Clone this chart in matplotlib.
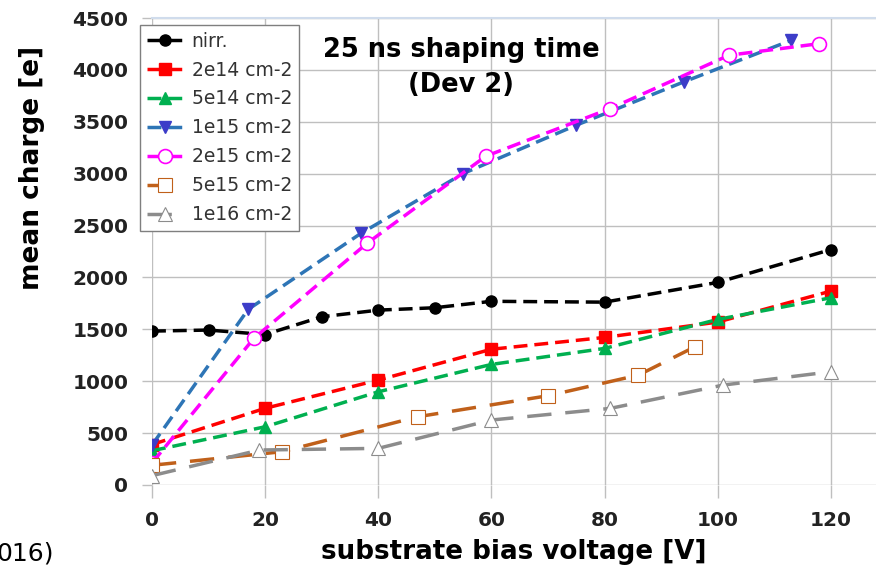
import matplotlib.pyplot as plt

# series
nirr_x = [0, 10, 20, 30, 40, 50, 60, 80, 100, 120]
nirr_y = [1483, 1493, 1450, 1621, 1685, 1708, 1770, 1762, 1952, 2268]
f2e14_x = [0, 20, 40, 60, 80, 100, 120]
f2e14_y = [390, 739, 1011, 1308, 1422, 1570, 1868]
f5e14_x = [0, 20, 40, 60, 80, 100, 120]
f5e14_y = [330, 561, 898, 1162, 1316, 1595, 1804]
f1e15_x = [0, 17, 37, 55, 75, 94, 113]
f1e15_y = [385, 1692, 2427, 3001, 3467, 3884, 4285]
f2e15_x = [0, 18, 38, 59, 81, 102, 118]
f2e15_y = [212, 1413, 2328, 3168, 3627, 4141, 4253]
f5e15_x = [0, 23, 47, 70, 86, 96]
f5e15_y = [190, 321, 658, 860, 1059, 1332]
f1e16_x = [0, 19, 40, 60, 81, 101, 120]
f1e16_y = [90, 337, 353, 626, 738, 963, 1091]

labels = ['nirr.', '2e14 cm-2', '5e14 cm-2', '1e15 cm-2', '2e15 cm-2', '5e15 cm-2', '1e16 cm-2']
xticks = [0, 20, 40, 60, 80, 100, 120]
yticks = [0, 500, 1000, 1500, 2000, 2500, 3000, 3500, 4000, 4500]

fig = plt.figure(figsize=(8.76, 5.75), dpi=100)
ax = fig.add_axes([152 / 876, 1 - 485 / 575, 1 - 152 / 876, (485 - 18) / 575])

short = (4, 2)
long = (7, 4)
ax.plot(nirr_x, nirr_y, color='black', lw=2.5, dashes=short, marker='o', ms=8,
        label=labels[0])
ax.plot(f2e14_x, f2e14_y, color='#ff0000', lw=2.5, dashes=short, marker='s', ms=8,
        label=labels[1])
ax.plot(f5e14_x, f5e14_y, color='#00b050', lw=2.5, dashes=short, marker='^', ms=8,
        label=labels[2])
ax.plot(f1e15_x, f1e15_y, color='#2e75b6', lw=2.5, dashes=short, marker='v', ms=9,
        mfc='#3c3cc8', mec='#3c3cc8', label=labels[3])
ax.plot(f2e15_x, f2e15_y, color='#ff00ff', lw=2.5, dashes=short, marker='o', ms=10,
        mfc='white', mew=1.2, label=labels[4])
ax.plot(f5e15_x, f5e15_y, color='#c0601a', lw=2.5, dashes=long, marker='s', ms=10,
        mfc='white', mew=0.8, label=labels[5])
ax.plot(f1e16_x, f1e16_y, color='#8c8c8c', lw=2.5, dashes=long, marker='^', ms=10,
        mfc='white', mew=0.8, label=labels[6])

ax.set_xlim(0, 128)
ax.set_ylim(0, 4500)
ax.set_xticks(xticks)
ax.set_yticks(yticks)
ax.grid(True, color='#bfbfbf', lw=1)
ax.set_axisbelow(True)
for side in ['left', 'bottom', 'right']:
    ax.spines[side].set_visible(False)
ax.spines['top'].set_color('#d0dcec')
ax.spines['top'].set_linewidth(1.5)
ax.tick_params(axis='x', length=9, color='#bfbfbf', width=1, pad=10, labelsize=14.5)
ax.tick_params(axis='y', length=7, color='#bfbfbf', width=1, pad=10, labelsize=14.5)
for t in ax.get_xticklabels() + ax.get_yticklabels():
    t.set_fontweight('bold')
    t.set_color('#222222')

ax.set_xlabel('substrate bias voltage [V]', fontsize=18.8, fontweight='bold', labelpad=6)
fig.text(0.036, 1 - 168 / 575, 'mean charge [e]', rotation=90, fontsize=19,
         fontweight='bold', ha='center', va='center')

ax.text(0.427, 0.96, '25 ns shaping time\n(Dev 2)', transform=ax.transAxes,
        ha='center', va='top', fontsize=18.5, fontweight='bold', linespacing=1.45)

fig.text(-0.004, 0.038, '016)', fontsize=18, ha='left', va='center')

leg = ax.legend(loc='upper left', bbox_to_anchor=(140 / 876, 1 - 25 / 575),
                bbox_transform=fig.transFigure, fontsize=13.5, frameon=True,
                fancybox=False, edgecolor='#7f7f7f', framealpha=1,
                handlelength=2.0, labelspacing=0.53, borderpad=0.35,
                handletextpad=0.4, borderaxespad=0)
leg.get_frame().set_linewidth(1)
for t in leg.get_texts():
    t.set_color('#333333')

fig.savefig('out.png', dpi=100)
